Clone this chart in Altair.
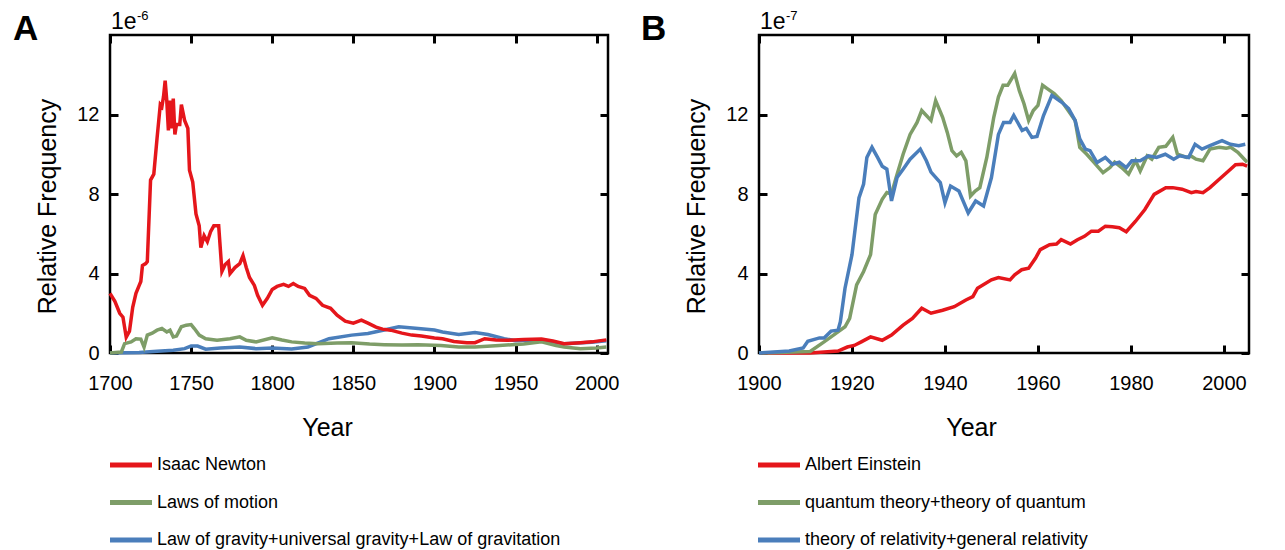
import altair as alt
import pandas as pd

# ---------------- Panel A data (units of 1e-6) ----------------
newton_years = [1700, 1703, 1706, 1708, 1709, 1710, 1712, 1714, 1716, 1718, 1719, 1720, 1722, 1723,
                1725, 1727, 1729, 1731, 1732, 1733, 1734, 1735, 1736, 1737, 1738, 1739, 1740, 1741,
                1743, 1744, 1746, 1748, 1749, 1751, 1753, 1755, 1756, 1758, 1760, 1762, 1764, 1767,
                1769, 1771, 1773, 1774, 1777, 1780, 1782, 1784, 1786, 1789, 1791, 1794, 1797, 1800,
                1803, 1807, 1810, 1813, 1816, 1820, 1823, 1827, 1831, 1836, 1840, 1845, 1850, 1855,
                1859, 1864, 1868, 1873, 1880, 1886, 1892, 1900, 1905, 1912, 1920, 1925, 1931, 1938,
                1945, 1955, 1966, 1973, 1980, 1990, 1997, 2006]
newton_vals = [3.0, 2.6, 2.0, 1.8, 1.3, 0.8, 1.1, 2.3, 3.0, 3.4, 3.6, 4.4, 4.5, 4.6,
               8.7, 9.0, 10.8, 12.5, 12.4, 12.9, 13.7, 12.7, 11.2, 12.7, 11.3, 12.8, 11.0, 11.5,
               11.5, 12.5, 11.7, 11.3, 9.2, 8.6, 7.0, 6.4, 5.3, 5.9, 5.6, 6.1, 6.4, 6.4,
               4.1, 4.45, 4.6, 4.0, 4.3, 4.5, 4.9, 4.3, 3.8, 3.4, 2.9, 2.4, 2.75, 3.2,
               3.35, 3.45, 3.35, 3.5, 3.35, 3.25, 2.9, 2.75, 2.4, 2.25, 1.9, 1.6, 1.5, 1.65,
               1.5, 1.3, 1.2, 1.15, 1.0, 0.9, 0.85, 0.76, 0.72, 0.58, 0.52, 0.52, 0.72, 0.66,
               0.64, 0.68, 0.7, 0.6, 0.47, 0.52, 0.56, 0.66]

motion_years = [1700, 1707, 1709, 1713, 1716, 1719, 1721, 1723, 1726, 1729, 1732, 1735, 1737, 1739,
                1741, 1744, 1747, 1750, 1752, 1755, 1759, 1766, 1774, 1780, 1784, 1790, 1800, 1806,
                1812, 1820, 1828, 1840, 1849, 1860, 1869, 1880, 1890, 1904, 1915, 1925, 1940, 1955,
                1966, 1975, 1980, 1990, 2000, 2006]
motion_vals = [0.0, 0.05, 0.47, 0.56, 0.72, 0.7, 0.3, 0.9, 1.0, 1.15, 1.23, 1.06, 1.15, 0.81,
               0.85, 1.32, 1.4, 1.43, 1.23, 0.9, 0.72, 0.64, 0.72, 0.81, 0.64, 0.56, 0.76, 0.65,
               0.56, 0.5, 0.47, 0.5, 0.52, 0.45, 0.42, 0.4, 0.42, 0.38, 0.3, 0.3, 0.38, 0.45,
               0.56, 0.38, 0.3, 0.22, 0.25, 0.3]

gravity_years = [1700, 1718, 1729, 1739, 1746, 1750, 1754, 1759, 1768, 1780, 1790, 1800, 1812, 1822,
                 1828, 1835, 1849, 1859, 1869, 1878, 1890, 1900, 1905, 1915, 1925, 1933, 1943, 1950,
                 1966, 1980, 1997, 2006]
gravity_vals = [0.0, 0.02, 0.09, 0.14, 0.22, 0.35, 0.35, 0.19, 0.25, 0.3, 0.22, 0.25, 0.2, 0.3,
                0.5, 0.72, 0.9, 0.98, 1.16, 1.32, 1.23, 1.16, 1.06, 0.93, 1.03, 0.93, 0.72, 0.62,
                0.66, 0.46, 0.54, 0.62]

# ---------------- Panel B data (units of 1e-7) ----------------
einstein_years = [1900, 1911, 1917, 1919, 1920.5, 1922, 1924, 1926.5, 1928.5, 1931, 1933, 1935, 1937,
                  1939.5, 1942, 1944.5, 1946, 1947, 1950, 1951.5, 1954, 1955, 1956.5, 1958, 1959.5,
                  1960.5, 1962.5, 1964, 1965, 1967, 1968.5, 1970, 1971.5, 1973, 1974.5, 1976, 1977.5,
                  1979, 1981, 1983, 1985, 1987.5, 1989, 1991, 1993, 1994, 1995.5, 1997, 1999, 2001,
                  2002.5, 2004, 2005]
einstein_vals = [0.0, 0.0, 0.1, 0.3, 0.38, 0.56, 0.81, 0.64, 0.9, 1.4, 1.74, 2.25, 2.0,
                 2.15, 2.33, 2.67, 2.84, 3.26, 3.68, 3.8, 3.68, 3.93, 4.19, 4.27, 4.78,
                 5.2, 5.45, 5.48, 5.7, 5.48, 5.7, 5.87, 6.13, 6.13, 6.38, 6.35, 6.3,
                 6.1, 6.63, 7.22, 7.98, 8.32, 8.32, 8.24, 8.07, 8.12, 8.07, 8.32, 8.74, 9.16,
                 9.47, 9.5, 9.4]

quantum_years = [1900, 1911, 1914, 1917, 1918.5, 1919.5, 1921, 1922.5, 1924, 1925, 1926.5, 1927.5,
                 1928.5, 1929.5, 1931, 1932.5, 1934, 1935, 1937, 1938, 1939.5, 1940.5, 1941.5, 1942.5,
                 1943.5, 1944.5, 1945.5, 1946.5, 1947.5, 1949, 1950.5, 1951.5, 1952.5, 1953.5, 1955,
                 1956, 1957, 1958, 1959, 1960, 1961, 1962, 1963.5, 1965, 1966.5, 1968, 1969, 1970.5,
                 1972, 1974, 1975.5, 1976.5, 1978, 1979.5, 1981, 1982, 1983.5, 1984.5, 1986, 1987.5,
                 1989, 1990, 1992, 1993, 1994, 1995.5, 1997, 1999, 2000.5, 2001.5, 2003, 2005]
quantum_vals = [0.0, 0.08, 0.56, 1.06, 1.32, 1.74, 3.43, 4.1, 4.95, 6.97, 7.73, 8.07,
                8.0, 8.83, 10.0, 11.0, 11.6, 12.2, 11.7, 12.7, 11.86, 11.1, 10.18, 9.92,
                10.1, 9.67, 7.9, 8.15, 8.32, 9.84, 11.86, 12.88, 13.47, 13.47, 14.06,
                13.2, 12.54, 11.7, 12.2, 12.46, 13.47, 13.3, 13.05, 12.7, 12.2, 11.7, 10.35, 10.0,
                9.6, 9.07, 9.33, 9.6, 9.33, 9.0, 9.67, 9.16, 9.92, 9.75, 10.35, 10.4,
                10.85, 10.0, 9.84, 9.9, 9.75, 9.67, 10.26, 10.35, 10.3, 10.35, 10.1, 9.6]

relativity_years = [1900, 1906.5, 1909.5, 1910.5, 1913, 1914, 1915.5, 1917, 1917.5, 1918.5, 1920,
                    1921.5, 1922.5, 1923.2, 1924.3, 1925.5, 1926.5, 1927.5, 1928.5, 1929.7, 1931,
                    1932.5, 1934.7, 1936, 1937, 1939, 1940, 1941.2, 1943, 1945, 1946.6, 1948.3, 1950,
                    1951.5, 1952.6, 1954, 1954.8, 1956.6, 1957.5, 1958.7, 1959.8, 1961.2, 1963, 1965.2,
                    1966.6, 1968, 1969, 1970.2, 1971.2, 1972.7, 1974.5, 1976, 1977.5, 1979, 1980.2,
                    1982, 1983.8, 1985.5, 1987.4, 1989.2, 1990.5, 1992.4, 1993.8, 1995.3, 1997, 1999.6,
                    2001.4, 2003.2, 2004.6]
relativity_vals = [0.0, 0.1, 0.25, 0.59, 0.76, 0.76, 1.1, 1.15, 1.57, 3.26, 4.95,
                   7.8, 8.5, 9.84, 10.35, 9.84, 9.4, 9.25, 7.65, 8.83, 9.25,
                   9.75, 10.26, 9.67, 9.1, 8.57, 7.56, 8.4, 8.15, 7.05, 7.65, 7.4, 8.83,
                   11.0, 11.6, 11.6, 11.95, 11.2, 11.3, 10.85, 10.9, 11.95, 12.96, 12.6,
                   12.3, 11.7, 10.77, 10.26, 10.18, 9.58, 9.84, 9.5, 9.6, 9.33, 9.67,
                   9.67, 9.92, 9.84, 10.0, 9.75, 9.92, 9.84, 10.5, 10.26, 10.43, 10.68,
                   10.5, 10.43, 10.5]

names_a = ["Isaac Newton", "Laws of motion",
           "Law of gravity+universal gravity+Law of  gravitation"]
names_b = ["Albert Einstein", "quantum theory+theory of quantum",
           "theory of relativity+general relativity"]
colors = ["#E5161B", "#7E9D68", "#4A7EBB"]

xticks_a = [1700, 1750, 1800, 1850, 1900, 1950, 2000]
xticks_b = [1900, 1920, 1940, 1960, 1980, 2000]
yticks = [0, 4, 8, 12]


def series_df(names, pairs):
    rows = []
    for name, (ys, vs) in zip(names, pairs):
        for y, v in zip(ys, vs):
            rows.append({"series": name, "year": y, "value": v})
    return pd.DataFrame(rows)


df_a = series_df(names_a, [(newton_years, newton_vals), (motion_years, motion_vals),
                           (gravity_years, gravity_vals)])
df_b = series_df(names_b, [(einstein_years, einstein_vals), (quantum_years, quantum_vals),
                           (relativity_years, relativity_vals)])

FONT = "Liberation Sans"
W_A, W_B, H = 498, 490, 318
TL = 8  # inward tick length


def panel(df, names, draw_order, xdom, xticks, letter, exp, w, title_x, legend_x0, anchor):
    color_scale = alt.Scale(domain=names, range=colors)
    # grid lines dashed so that only short inward ticks show at both ends of each line
    xenc = alt.X("year:Q",
                 scale=alt.Scale(domain=xdom, nice=False, zero=False),
                 axis=alt.Axis(values=xticks, format="d", labelFlush=False, labelOverlap=False,
                               domain=False, ticks=False,
                               grid=True, gridColor="black", gridWidth=3, gridOpacity=1,
                               gridDash=[TL, H - 2 * TL, TL, 3000],
                               labelFont=FONT, labelFontSize=20, labelColor="black",
                               labelPadding=20, labelBaseline="top",
                               title="Year", titleFont=FONT, titleFontSize=25,
                               titleFontWeight="normal", titleColor="black",
                               titleX=title_x, titleY=74, titleBaseline="middle",
                               titleAlign="center"))
    yenc = alt.Y("value:Q",
                 scale=alt.Scale(domain=[0, 16], nice=False),
                 axis=alt.Axis(values=yticks, domain=False, ticks=False,
                               grid=True, gridColor="black", gridWidth=3, gridOpacity=1,
                               gridDash=[TL, w - 2 * TL, TL, 3000],
                               labelFont=FONT, labelFontSize=20, labelColor="black",
                               labelPadding=11,
                               title="Relative Frequency", titleFont=FONT, titleFontSize=25,
                               titleFontWeight="normal", titleColor="black",
                               titleX=-63, titleY=171, titleBaseline="middle",
                               titleAlign="center", titleAngle=270))
    layers = []
    for name in draw_order:
        layers.append(
            alt.Chart(df).transform_filter(alt.datum.series == name)
            .mark_line(strokeWidth=3.5)
            .encode(x=xenc, y=yenc,
                    color=alt.Color("series:N", scale=color_scale, legend=None))
        )
    one = pd.DataFrame({"t": [letter]})
    layers.append(alt.Chart(one).mark_text(font=FONT, fontSize=35, fontWeight="bold",
                                           align="left", baseline="alphabetic", color="black")
                  .encode(text="t:N", x=alt.value(-97 if letter == "A" else -118), y=alt.value(5)))
    layers.append(alt.Chart(pd.DataFrame({"t": ["1e"]}))
                  .mark_text(font=FONT, fontSize=23, align="left", baseline="alphabetic", color="black")
                  .encode(text="t:N", x=alt.value(1), y=alt.value(-6)))
    layers.append(alt.Chart(pd.DataFrame({"t": [exp]}))
                  .mark_text(font=FONT, fontSize=13, align="left", baseline="alphabetic", color="black")
                  .encode(text="t:N", x=alt.value(27), y=alt.value(-15)))
    # legend below the plot
    for i, name in enumerate(names):
        ly = 430 + 37.5 * i
        ldf = pd.DataFrame({"series": [name]})
        layers.append(alt.Chart(ldf).mark_rule(strokeWidth=5)
                      .encode(x=alt.value(legend_x0), x2=alt.value(legend_x0 + 42),
                              y=alt.value(ly), y2=alt.value(ly),
                              color=alt.Color("series:N", scale=color_scale, legend=None)))
        layers.append(alt.Chart(ldf).mark_text(font=FONT, fontSize=18, align="left",
                                               baseline="middle", color="black")
                      .encode(text="series:N", x=alt.value(legend_x0 + 47), y=alt.value(ly)))
    if anchor:
        layers.append(alt.Chart(one).mark_rule(opacity=0)
                      .encode(x=alt.value(-100), x2=alt.value(-99),
                              y=alt.value(-25), y2=alt.value(-24)))
    return alt.layer(*layers).properties(width=w, height=H)


pa = panel(df_a, names_a, [names_a[2], names_a[1], names_a[0]], [1700, 2007], xticks_a,
           "A", "-6", W_A, 217, 0, True)
pb = panel(df_b, names_b, [names_b[0], names_b[1], names_b[2]], [1900, 2005.4], xticks_b,
           "B", "-7", W_B, 212, -1, False)

chart = (alt.hconcat(pa, pb, spacing=151, bounds="flush")
         .properties(padding=0, background="white")
         .configure_view(stroke="black", strokeWidth=2.5))

chart.save("out.html", embed_options={"renderer": "svg", "actions": False})
